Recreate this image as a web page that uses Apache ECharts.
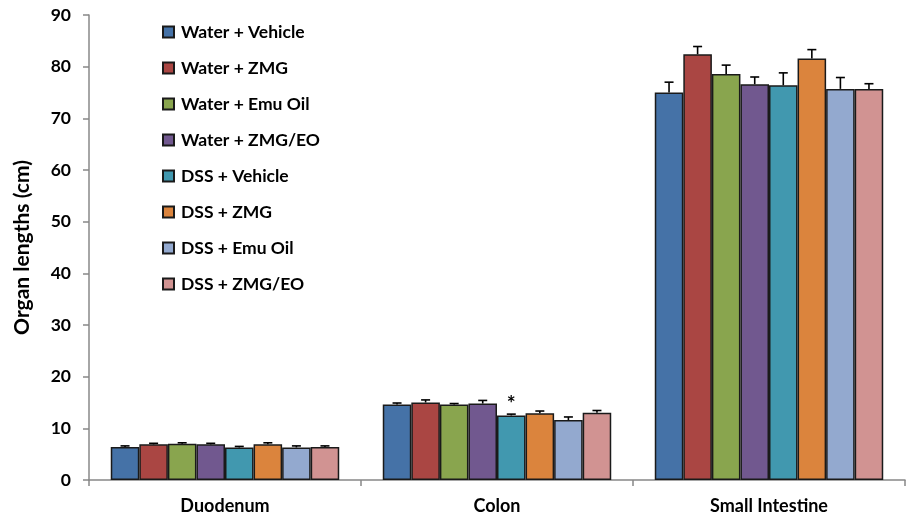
<!DOCTYPE html>
<html>
<head>
<meta charset="utf-8">
<script src="https://cdn.jsdelivr.net/npm/echarts@6/dist/echarts.min.js"></script>
<style>
  html, body { margin: 0; padding: 0; background: #fff; }
  #chart { width: 907px; height: 517px; }
</style>
</head>
<body>
<div id="chart"></div>
<script>
// Organ lengths by treatment group (mean, cm) with SEM
const organs = ['Duodenum', 'Colon', 'Small Intestine'];
const groups = ['Water + Vehicle', 'Water + ZMG', 'Water + Emu Oil', 'Water + ZMG/EO',
                'DSS + Vehicle', 'DSS + ZMG', 'DSS + Emu Oil', 'DSS + ZMG/EO'];
const colors = ['#4572A7', '#AA4643', '#89A54E', '#71588F', '#4198AF', '#DB843D', '#93A9CF', '#D19392'];

// Mean values, one array per group: [Duodenum, Colon, Small Intestine]
const waterVehicle = [6.4, 14.6, 75.0];
const waterZMG     = [6.9, 15.0, 82.4];
const waterEmuOil  = [7.0, 14.6, 78.6];
const waterZMGEO   = [6.9, 14.8, 76.6];
const dssVehicle   = [6.3, 12.5, 76.4];
const dssZMG       = [6.9, 12.9, 81.6];
const dssEmuOil    = [6.3, 11.6, 75.7];
const dssZMGEO     = [6.4, 13.0, 75.7];

// Standard errors, same layout
const errWaterVehicle = [0.2, 0.3, 2.0];
const errWaterZMG     = [0.2, 0.5, 1.5];
const errWaterEmuOil  = [0.2, 0.2, 1.7];
const errWaterZMGEO   = [0.2, 0.6, 1.4];
const errDssVehicle   = [0.2, 0.25, 2.4];
const errDssZMG       = [0.3, 0.45, 1.7];
const errDssEmuOil    = [0.3, 0.6, 2.2];
const errDssZMGEO     = [0.2, 0.45, 1.0];

// Significance marker: DSS + Vehicle in Colon
const sigMarks = [{ group: 4, organ: 1, text: '*' }];

const yTicks = { min: 0, max: 90, interval: 10 };

const means = [waterVehicle, waterZMG, waterEmuOil, waterZMGEO, dssVehicle, dssZMG, dssEmuOil, dssZMGEO];
const errs = [errWaterVehicle, errWaterZMG, errWaterEmuOil, errWaterZMGEO, errDssVehicle, errDssZMG, errDssEmuOil, errDssZMGEO];

const categoryGap = 0.16;
const fontFam = 'Lato, "Open Sans", sans-serif';

const series = [];
means.forEach((vals, k) => {
  series.push({
    name: groups[k],
    type: 'bar',
    barGap: '0%',
    barCategoryGap: (categoryGap * 100) + '%',
    itemStyle: { color: colors[k], borderColor: '#1a1a1a', borderWidth: 1.5 },
    emphasis: { disabled: true },
    data: vals.map((v, i) => {
      const mark = sigMarks.find(m => m.group === k && m.organ === i);
      if (!mark) return v;
      return {
        value: v,
        label: {
          show: true, position: 'top', distance: 1, formatter: mark.text,
          color: '#000', fontSize: 21, fontWeight: 'bold', fontFamily: fontFam
        }
      };
    })
  });
});

// Error bars drawn as custom series, offset to sit over each bar
means.forEach((vals, k) => {
  series.push({
    type: 'custom',
    name: groups[k] + ' err',
    silent: true,
    z: 5,
    data: vals.map((v, i) => [i, v, errs[k][i]]),
    renderItem: (params, api) => {
      const cat = api.value(0), v = api.value(1), e = api.value(2);
      const base = api.coord([cat, v]);
      const top = api.coord([cat, v + e]);
      const band = api.size([1, 0])[0];
      const bw = band * (1 - categoryGap) / means.length;
      const x = base[0] + (k - (means.length - 1) / 2) * bw;
      const style = { stroke: '#000', lineWidth: 1.6 };
      return {
        type: 'group',
        children: [
          { type: 'line', shape: { x1: x, y1: base[1], x2: x, y2: top[1] }, style },
          { type: 'line', shape: { x1: x - 4.5, y1: top[1], x2: x + 4.5, y2: top[1] }, style }
        ]
      };
    }
  });
});

const chart = echarts.init(document.getElementById('chart'), null, { renderer: 'canvas' });
chart.setOption({
  animation: false,
  backgroundColor: '#fff',
  grid: { left: 89, right: 2, top: 15, bottom: 37, containLabel: false },
  legend: {
    data: groups,
    orient: 'vertical',
    left: 157,
    top: 18,
    itemWidth: 11,
    itemHeight: 11,
    itemGap: 18,
    icon: 'rect',
    textStyle: { color: '#000', fontSize: 17.5, fontWeight: 'bold', fontFamily: fontFam, lineHeight: 18, padding: [0, 0, 0, 2] },
    selectedMode: false
  },
  xAxis: {
    type: 'category',
    data: organs,
    axisLine: { lineStyle: { color: '#888', width: 1.5 } },
    axisTick: { show: true, length: 6, lineStyle: { color: '#888', width: 1.5 } },
    axisLabel: { color: '#000', fontSize: 18, fontWeight: 'bold', fontFamily: fontFam, margin: 17 }
  },
  yAxis: {
    type: 'value',
    min: yTicks.min,
    max: yTicks.max,
    interval: yTicks.interval,
    name: 'Organ lengths (cm)',
    nameLocation: 'middle',
    nameGap: 56,
    nameRotate: 90,
    nameTextStyle: { color: '#000', fontSize: 21, fontWeight: 'bold', fontFamily: fontFam },
    splitLine: { show: false },
    axisLine: { show: true, lineStyle: { color: '#888', width: 1.5 } },
    axisTick: { show: true, length: 6, lineStyle: { color: '#888', width: 1.5 } },
    axisLabel: { color: '#000', fontSize: 17.5, fontWeight: 'bold', fontFamily: fontFam, margin: 18 }
  },
  series
});
</script>
</body>
</html>
